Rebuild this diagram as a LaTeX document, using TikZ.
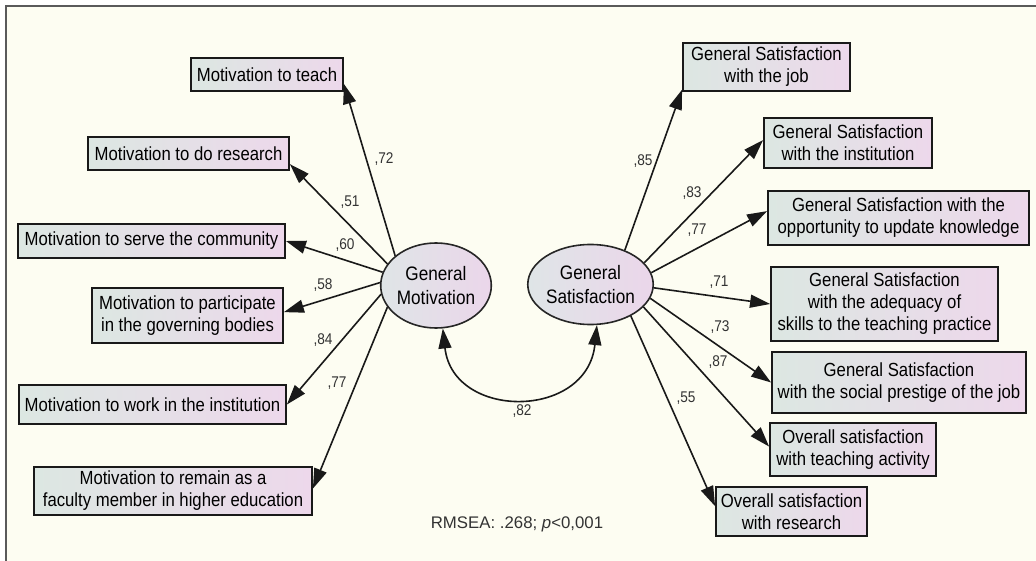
\documentclass[tikz,border=0pt]{standalone}
\usepackage{fontspec}
\setmainfont{Liberation Sans}
\newfontfamily\amosfont[FakeStretch=0.88]{Liberation Sans}
\usetikzlibrary{arrows.meta,shapes.geometric}
\definecolor{bgc}{HTML}{FDFDF2}
\definecolor{lc}{HTML}{DCE7E2}
\definecolor{rc}{HTML}{EDD8EB}
\definecolor{elc}{HTML}{DFE5E7}
\definecolor{erc}{HTML}{EBD6EA}
\definecolor{framec}{HTML}{5A5A5A}
\definecolor{labc}{HTML}{333333}
\begin{document}
\begin{tikzpicture}[x=1pt,y=-1pt,
  obs/.style={draw=black!90, line width=1.8pt, left color=lc, right color=rc,
    inner sep=0pt, align=center, text=black,
    font=\amosfont\fontsize{19}{22}\selectfont},
  lat/.style={ellipse, draw=black!85, line width=1.6pt, left color=elc, right color=erc,
    inner sep=0pt, align=center, text=black,
    font=\amosfont\fontsize{19.5}{24}\selectfont},
  pathar/.style={line width=1.6pt, draw=black!90, -{Triangle[length=20pt,width=13pt]}},
  covar/.style={line width=1.6pt, draw=black!90, {Triangle[length=20pt,width=13pt]}-{Triangle[length=20pt,width=13pt]}},
  coef/.style={font=\amosfont\fontsize{15.5}{17}\selectfont, text=labc, inner sep=0pt}]
\useasboundingbox (0,0) rectangle (1036,561);
\fill[white] (0,0) rectangle (1036,561);
\fill[bgc] (6,6) rectangle (1036,561);
\draw[framec, line width=2pt] (6,561) -- (6,6) -- (1036,6);

% latent variables
\node[lat, minimum width=106pt, minimum height=85pt] (GM) at (436,285.5) {General\\Motivation};
\node[lat, minimum width=113pt, minimum height=80pt] (GS) at (590.5,284.5) {General\\Satisfaction};

% left observed
\node[obs, minimum width=152pt, minimum height=33pt] (L1) at (267,74.5) {Motivation to teach};
\node[obs, minimum width=201pt, minimum height=33pt] (L2) at (188.5,153.5) {Motivation to do research};
\node[obs, minimum width=267pt, minimum height=34pt] (L3) at (151.5,241) {Motivation to serve the community};
\node[obs, minimum width=191pt, minimum height=55pt] (L4) at (187.5,315.5) {Motivation to participate\\in the governing bodies};
\node[obs, minimum width=267pt, minimum height=39pt] (L5) at (152.5,404.5) {Motivation to work in the institution};
\node[obs, minimum width=278pt, minimum height=48pt] (L6) at (173,491) {Motivation to remain as a\\faculty member in higher education};

% right observed
\node[obs, minimum width=167pt, minimum height=48pt] (R1) at (766.5,67) {General Satisfaction\\with the job};
\node[obs, minimum width=168pt, minimum height=50pt] (R2) at (848,143) {General Satisfaction\\with the institution};
\node[obs, minimum width=261pt, minimum height=54pt] (R3) at (898.5,218) {General Satisfaction with the\\opportunity to update knowledge};
\node[obs, minimum width=227pt, minimum height=74pt] (R4) at (884.5,304) {General Satisfaction\\with the adequacy of\\skills to the teaching practice};
\node[obs, minimum width=254pt, minimum height=61pt] (R5) at (899,382.5) {General Satisfaction\\with the social prestige of the job};
\node[obs, minimum width=166pt, minimum height=53pt] (R6) at (853,449.5) {Overall satisfaction\\with teaching activity};
\node[obs, minimum width=151pt, minimum height=49pt] (R7) at (791.5,511.5) {Overall satisfaction\\with research};

% paths from GM
\draw[pathar] (GM.144) -- (L1.-7);
\draw[pathar] (GM.156) -- (L2.-6);
\draw[pathar] (GM.166) -- (L3.east);
\draw[pathar] (GM.177) -- (L4.2);
\draw[pathar] (GM.189) -- (L5.east);
\draw[pathar] (GM.204) -- (L6.1);

% paths from GS
\draw[pathar] (GS.45) -- (R1.195);
\draw[pathar] (GS.22) -- (R2.178);
\draw[pathar] (GS.11) -- (R3.177);
\draw[pathar] (GS.-3) -- (R4.west);
\draw[pathar] (GS.-13) -- (R5.west);
\draw[pathar] (GS.-23) -- (R6.178);
\draw[pathar] (GS.-38) -- (R7.176);

% covariance
\draw[covar] (GM.-81) .. controls (453,420) and (587,420) .. (GS.-81);

% coefficients
\node[coef] (c72) at (384,159) {,72};
\node[coef] (c51) at (350,202) {,51};
\node[coef] (c60) at (345,245) {,60};
\node[coef] (c58) at (323,285) {,58};
\node[coef] (c84) at (323,340) {,84};
\node[coef] (c77a) at (337,383) {,77};
\node[coef] (c82) at (522,411) {,82};
\node[coef] (c85) at (643,161) {,85};
\node[coef] (c83) at (692,193) {,83};
\node[coef] (c77b) at (697,230) {,77};
\node[coef] (c71) at (719,282) {,71};
\node[coef] (c73) at (720,327) {,73};
\node[coef] (c87) at (718,362) {,87};
\node[coef] (c55) at (686,398) {,55};

\node[text=labc, font=\fontsize{16.8}{19}\selectfont, inner sep=0pt] (fit) at (517,524) {RMSEA: .268; \textit{p}<0,001};
\end{tikzpicture}
\end{document}
